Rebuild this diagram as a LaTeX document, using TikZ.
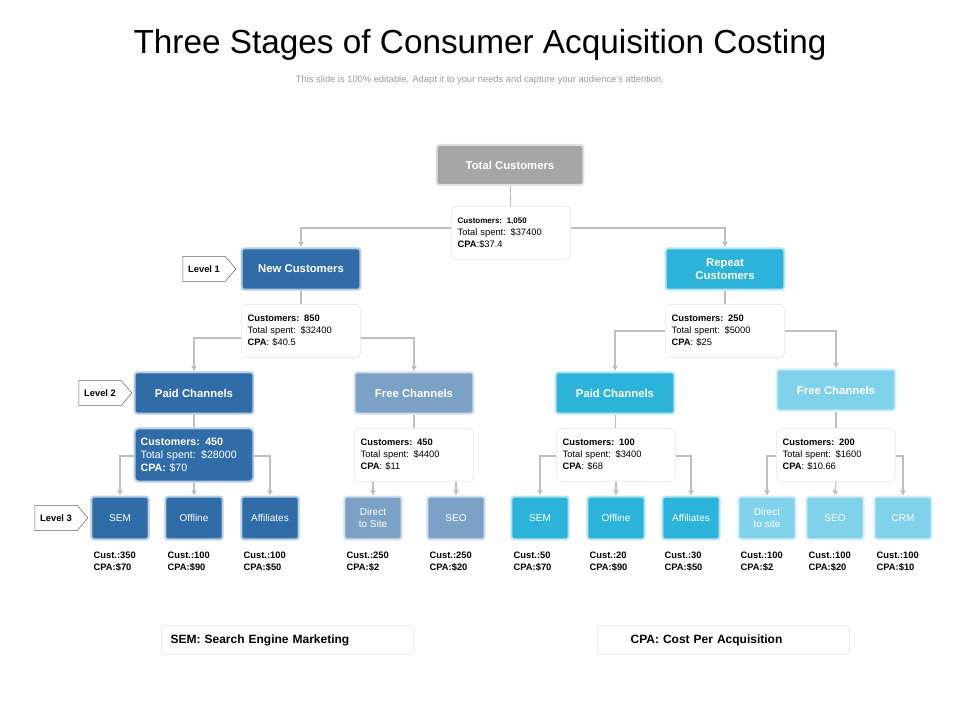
\documentclass[tikz,border=0pt]{standalone}
\usepackage{fontspec}
\setmainfont{Liberation Sans}
\usetikzlibrary{shapes.symbols,arrows.meta}
\definecolor{cgray}{HTML}{A6A6A6}
\definecolor{cblue}{HTML}{2F6CA8}
\definecolor{cpale}{HTML}{7BA2C6}
\definecolor{ccyan}{HTML}{2BB3DA}
\definecolor{clcyan}{HTML}{80D2EB}
\definecolor{cline}{HTML}{BFBFBF}
\begin{document}
\begin{tikzpicture}[x=0.75pt,y=-0.75pt,
  box/.style={draw=#1!35!white,line width=1.5pt,fill=#1,rounded corners=2pt,text=white,font=\bfseries\fontsize{8.5}{10}\selectfont,align=center,minimum width=89pt,minimum height=31pt,inner sep=1pt},
  sbox/.style={draw=#1!35!white,line width=1.5pt,fill=#1,rounded corners=2pt,text=white,font=\fontsize{7.5}{8.5}\selectfont,align=center,minimum width=43pt,minimum height=32pt,inner sep=1pt},
  info/.style={draw=black!10,fill=white,rounded corners=3pt,minimum width=89pt,minimum height=40pt,align=left,font=\fontsize{7}{9}\selectfont,text width=80pt,inner sep=3pt},
  lvl/.style={draw=black!60,fill=white,signal,signal to=east,signal pointer angle=100,font=\bfseries\fontsize{7}{8}\selectfont,minimum height=19pt,inner xsep=4pt},
  ln/.style={draw=cline,line width=0.8pt},
  ar/.style={ln,-{Latex[length=4pt,width=4.5pt]}},
  lab/.style={anchor=west,align=left,font=\bfseries\fontsize{7}{9}\selectfont},
  leg/.style={draw=black!10,fill=white,rounded corners=2pt,minimum width=189pt,minimum height=22pt,font=\bfseries\fontsize{9}{10}\selectfont,anchor=west,text width=175pt}]
\useasboundingbox (0,0) rectangle (960,720);
\node (title) at (480,45) {\fontsize{25}{28}\selectfont Three Stages of Consumer Acquisition Costing};
\node[text=black!40,font=\fontsize{7}{8}\selectfont] (sub) at (480,80) {This slide is 100\% editable. Adapt it to your needs and capture your audience's attention.};

\node[box=cgray,minimum width=110pt,minimum height=30pt] (tc) at (510,165) {Total Customers};
\node[info] (i0) at (511,233) {\textbf{\fontsize{6}{8}\selectfont Customers: 1,050}\\Total spent: \$37400\\\textbf{CPA}:\$37.4};
\node[box=cblue] (nc) at (301,269) {New Customers};
\node[box=ccyan] (rc) at (725,269) {Repeat\\Customers};
\node[lvl] (l1) at (204,269) {Level 1};
\node[info] (i1) at (301,331) {\textbf{Customers: 850}\\Total spent: \$32400\\\textbf{CPA}: \$40.5};
\node[info] (i2) at (725,331) {\textbf{Customers: 250}\\Total spent: \$5000\\\textbf{CPA}: \$25};
\node[box=cblue] (pl) at (194,393) {Paid Channels};
\node[box=cpale] (fl) at (414,393) {Free Channels};
\node[box=ccyan] (pr) at (615,393) {Paid Channels};
\node[box=clcyan] (fr) at (836,390) {Free Channels};
\node[lvl] (l2) at (100,393) {Level 2};
\node[info,fill=cblue,draw=cblue!35!white,line width=1.5pt,text=white,font=\fontsize{8}{9.5}\selectfont] (ia) at (194,455) {\textbf{Customers: 450}\\Total spent: \$28000\\\textbf{CPA:} \$70};
\node[info] (ib) at (414,455) {\textbf{Customers: 450}\\Total spent: \$4400\\\textbf{CPA}: \$11};
\node[info] (ic) at (616,455) {\textbf{Customers: 100}\\Total spent: \$3400\\\textbf{CPA}: \$68};
\node[info] (id) at (836,455) {\textbf{Customers: 200}\\Total spent: \$1600\\\textbf{CPA}: \$10.66};
\node[lvl] (l3) at (56,518) {Level 3};

\foreach \n/\x/\c/\t/\cu/\cp in {a/120/cblue/SEM/350/70, b/194/cblue/Offline/100/90, c/270/cblue/Affiliates/100/50, d/373/cpale/Direct\\to Site/250/2, e/456/cpale/SEO/250/20, f/540/ccyan/SEM/50/70, g/616/ccyan/Offline/20/90, h/691/ccyan/Affiliates/30/50, i/767/clcyan/Direct\\to site/100/2, j/835/clcyan/SEO/100/20, k/903/clcyan/CRM/100/10}{
  \node[sbox=\c] (s\n) at (\x,518) {\t};
  \node[lab] (lb\n) at (\x-31,562) {Cust.:\cu\\CPA:\$\cp};
}

\draw[ln] (tc) -- (i0);
\draw[ar] (i0.west|-0,228) -| (nc.north);
\draw[ar] (i0.east|-0,228) -| (rc.north);
\draw[ln] (nc) -- (i1); \draw[ln] (rc) -- (i2);
\draw[ar] (i1.west|-0,338) -| (pl.north);
\draw[ar] (i1.east|-0,338) -| (fl.north);
\draw[ar] (i2.west|-0,331) -| (pr.north);
\draw[ar] (i2.east|-0,331) -| (fr.north);
\draw[ln] (pl) -- (ia); \draw[ln] (fl) -- (ib); \draw[ln] (pr) -- (ic); \draw[ln] (fr) -- (id);
\draw[ar] (ia.west|-0,456) -| (sa.north);
\draw[ar] (ia.south) -- (sb.north);
\draw[ar] (ia.east|-0,456) -| (sc.north);
\draw[ar] (ib.south-|sd.north) -- (sd.north);
\draw[ar] (ib.south-|se.north) -- (se.north);
\draw[ar] (ic.west|-0,456) -| (sf.north);
\draw[ar] (ic.south) -- (sg.north);
\draw[ar] (ic.east|-0,456) -| (sh.north);
\draw[ar] (id.west|-0,456) -| (si.north);
\draw[ar] (id.south) -- (sj.north);
\draw[ar] (id.east|-0,456) -| (sk.north);

\node[leg] (lg1) at (161,640) {SEM: Search Engine Marketing};
\node[leg] (lg2) at (597,640) {\hspace*{18pt}CPA: Cost Per Acquisition};
\end{tikzpicture}
\end{document}
